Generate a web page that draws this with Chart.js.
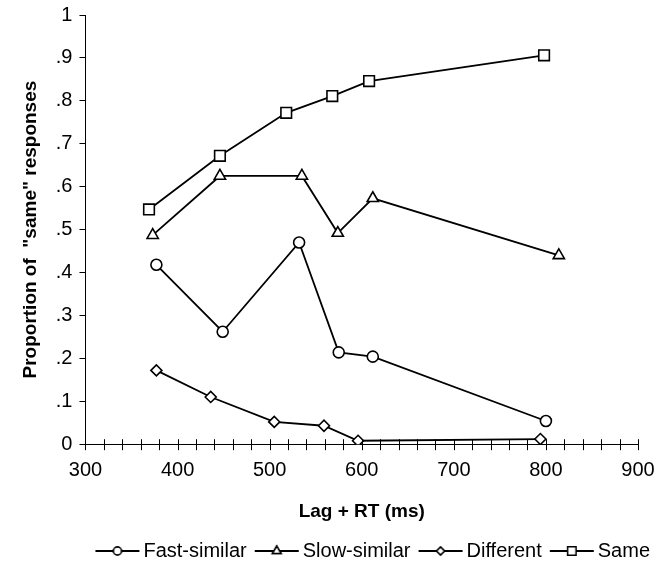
<!DOCTYPE html>
<html>
<head>
<meta charset="utf-8">
<script src="https://cdn.jsdelivr.net/npm/chart.js@4"></script>
<style>
  html, body { margin: 0; padding: 0; background: #fff; }
  #wrap { width: 666px; height: 565px; position: relative; }
</style>
</head>
<body>
<div id="wrap"><canvas id="chart"></canvas></div>
<script>
// lag + RT (ms) and proportion of "same" responses
const fastX = [377, 449, 532, 575, 612, 800];
const fastY = [0.418, 0.262, 0.470, 0.214, 0.204, 0.054];
const slowX = [373, 446, 535, 574, 612, 814];
const slowY = [0.487, 0.625, 0.625, 0.492, 0.573, 0.440];
const diffX = [377, 436, 505, 559, 596, 794];
const diffY = [0.172, 0.110, 0.052, 0.043, 0.008, 0.012];
const sameX = [369, 446, 518, 568, 608, 798];
const sameY = [0.547, 0.672, 0.772, 0.811, 0.846, 0.906];

const seriesNames = ['Fast-similar', 'Slow-similar', 'Different', 'Same'];
const yTickLabels = ['0', '.1', '.2', '.3', '.4', '.5', '.6', '.7', '.8', '.9', '1'];

const FONT = "'Liberation Sans', Arial, sans-serif";

const pts = (xs, ys) => xs.map((x, i) => ({ x, y: ys[i] }));

const styles = [
  { pointStyle: 'circle', pointRadius: 5.5 },
  { pointStyle: 'triangle', pointRadius: 6.5 },
  { pointStyle: 'rectRot', pointRadius: 5.5 },
  { pointStyle: 'rect', pointRadius: 7.5 }
];

const seriesData = [pts(fastX, fastY), pts(slowX, slowY), pts(diffX, diffY), pts(sameX, sameY)];

// legend swatch: line with the marker on it (box is 38 wide, image 52, drawn centred)
function swatch(st) {
  const c = document.createElement('canvas');
  c.width = 52; c.height = 16;
  const g = c.getContext('2d');
  g.strokeStyle = '#000';
  g.lineWidth = 1.8;
  g.beginPath(); g.moveTo(7, 8); g.lineTo(51, 8); g.stroke();
  g.fillStyle = '#fff';
  g.lineWidth = 1.5;
  Chart.helpers.drawPoint(g, { pointStyle: st.pointStyle, radius: st.pointRadius - 1.5, rotation: 0, borderWidth: 1.5 }, 29, 8);
  g.fill(); g.stroke();
  return c;
}

// x ticks cross the axis line
const crossTicks = {
  id: 'crossTicks',
  afterDraw(chart) {
    const xs = chart.scales.x, ctx = chart.ctx;
    const y0 = xs.top;
    ctx.save();
    ctx.strokeStyle = '#000';
    ctx.lineWidth = 1;
    xs.ticks.forEach(t => {
      const px = Math.round(xs.getPixelForValue(t.value)) + 0.5;
      ctx.beginPath();
      ctx.moveTo(px, y0 - 5);
      ctx.lineTo(px, y0 + 6);
      ctx.stroke();
    });
    ctx.restore();
  }
};

new Chart(document.getElementById('chart'), {
  type: 'line',
  data: {
    datasets: seriesData.map((d, i) => ({
      label: seriesNames[i],
      data: d,
      borderColor: '#000',
      borderWidth: 1.8,
      backgroundColor: '#fff',
      pointBackgroundColor: '#fff',
      pointBorderColor: '#000',
      pointBorderWidth: 1.6,
      pointStyle: styles[i].pointStyle,
      pointRadius: styles[i].pointRadius,
      tension: 0,
      fill: false
    }))
  },
  options: {
    responsive: true,
    maintainAspectRatio: false,
    animation: false,
    events: [],
    layout: { padding: { left: 19, right: 8, top: 1, bottom: -6 } },
    scales: {
      x: {
        type: 'linear',
        min: 300, max: 900,
        grid: { drawOnChartArea: false, drawTicks: false },
        border: { color: '#000', width: 1 },
        afterFit: s => { s.paddingRight = 28; },
        ticks: {
          stepSize: 20,
          autoSkip: false,
          maxTicksLimit: 100,
          maxRotation: 0,
          padding: 14,
          color: '#000',
          font: { family: FONT, size: 20 },
          callback: v => (v % 100 === 0 ? String(v) : '')
        },
        title: {
          display: true,
          text: 'Lag + RT (ms)',
          color: '#000',
          font: { family: FONT, size: 19, weight: 'bold' },
          padding: { top: 4, bottom: 10 }
        }
      },
      y: {
        min: 0, max: 1,
        grid: { drawOnChartArea: false, tickLength: 6, color: '#000' },
        border: { color: '#000', width: 1 },
        afterFit: s => { s.paddingTop = 15; },
        ticks: {
          stepSize: 0.1,
          padding: 7,
          color: '#000',
          font: { family: FONT, size: 20 },
          callback: (v, i) => yTickLabels[Math.round(v * 10)]
        },
        title: {
          display: true,
          text: 'Proportion of  "same" responses',
          color: '#000',
          font: { family: FONT, size: 19, weight: 'bold' },
          padding: { top: 0, bottom: 7 }
        }
      }
    },
    plugins: {
      tooltip: { enabled: false },
      legend: {
        position: 'bottom',
        align: 'end',
        labels: {
          color: '#000',
          font: { family: FONT, size: 20 },
          usePointStyle: true,
          pointStyleWidth: 38,
          padding: 8,
          generateLabels: chart => chart.data.datasets.map((ds, i) => ({
            text: ds.label,
            pointStyle: swatch(styles[i]),
            fillStyle: '#fff',
            strokeStyle: '#000',
            lineWidth: 0,
            datasetIndex: i,
            hidden: false
          }))
        }
      }
    }
  },
  plugins: [crossTicks]
});
</script>
</body>
</html>
